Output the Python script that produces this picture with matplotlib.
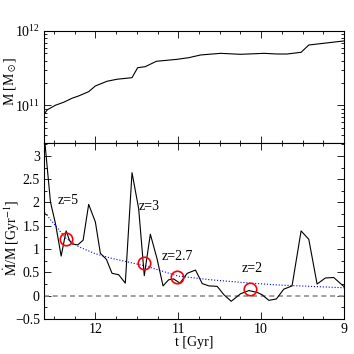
import numpy as np
import matplotlib
matplotlib.use("Agg")
import matplotlib.pyplot as plt
from matplotlib.ticker import MultipleLocator, LogLocator, NullFormatter

plt.rcParams['font.family'] = ['Liberation Serif', 'DejaVu Serif']
plt.rcParams['mathtext.fontset'] = 'stix'

# top panel: halo mass history (log10 M / Msun)
t_mass = [12.618, 12.582, 12.482, 12.382, 12.281, 12.201, 12.081, 12.0, 11.859,
          11.739, 11.558, 11.49, 11.398, 11.265, 11.012, 10.871, 10.731, 10.49,
          10.249, 9.967, 9.807, 9.687, 9.518, 9.425, 9.245, 9.004]
logM = [10.882, 10.94, 11.003, 11.043, 11.097, 11.128, 11.185, 11.262, 11.325,
        11.352, 11.373, 11.507, 11.521, 11.593, 11.62, 11.642, 11.678, 11.70,
        11.687, 11.70, 11.691, 11.691, 11.714, 11.812, 11.835, 11.866]

# bottom panel: specific accretion rate
t_rate = [12.61, 12.542, 12.482, 12.413, 12.353, 12.313, 12.281, 12.213, 12.148,
          12.081, 12.0, 11.94, 11.867, 11.799, 11.719, 11.639, 11.558, 11.478,
          11.41, 11.337, 11.257, 11.184, 11.117, 11.057, 10.98, 10.892, 10.792,
          10.711, 10.63, 10.53, 10.449, 10.361, 10.249, 10.148, 10.048, 9.988,
          9.907, 9.816, 9.727, 9.627, 9.518, 9.425, 9.325, 9.225, 9.124, 9.004]
rate = [3.3, 2.01, 1.55, 0.85, 1.39, 1.19, 1.11, 1.09, 1.19,
        1.96, 1.58, 0.91, 0.78, 0.48, 0.45, 0.27, 2.64, 1.87,
        0.43, 1.32, 0.80, 0.21, 0.34, 0.36, 0.27, 0.48, 0.55,
        0.26, 0.21, 0.20, 0.02, -0.12, 0.04, 0.11, 0.07, 0.02,
        -0.10, -0.07, 0.14, 0.21, 1.39, 1.21, 0.25, 0.38, 0.39, 0.20]

# smooth mean accretion rate (blue dotted)
t_mean = [12.61, 12.48, 12.36, 12.2, 12.0, 11.8, 11.6, 11.4, 11.2, 11.0,
          10.6, 10.2, 9.8, 9.4, 9.0]
rate_mean = [1.78, 1.50, 1.24, 1.05, 0.90, 0.80, 0.72, 0.64, 0.53, 0.42,
             0.34, 0.28, 0.23, 0.20, 0.17]

# redshift markers
z_t = [12.36, 11.41, 11.01, 10.14]
z_rate = [1.21, 0.71, 0.40, 0.15]
z_text = ['z=5', 'z=3', 'z=2.7', 'z=2']
z_text_pos = [(12.46, 2.05), (11.48, 1.91), (11.2, 0.85), (10.23, 0.59)]

fig = plt.figure(figsize=(3.54, 3.54), dpi=100)
ax1 = fig.add_axes([0.1243, 0.5952, 0.8475, 0.3172])
ax2 = fig.add_axes([0.1243, 0.0989, 0.8475, 0.4963])

fs = 10
for ax in (ax1, ax2):
    ax.set_xlim(12.62, 9.0)
    ax.xaxis.set_major_locator(MultipleLocator(1))
    ax.xaxis.set_minor_locator(MultipleLocator(0.25))
    ax.tick_params(which='both', direction='in', top=True, right=True,
                   labelsize=fs, width=0.6, pad=3)
    ax.tick_params(which='major', length=5)
    ax.tick_params(which='minor', length=2.5)
    for s in ax.spines.values():
        s.set_linewidth(0.8)

ax1.plot(t_mass, 10 ** np.array(logM), color='black', lw=0.8)
ax1.set_yscale('log')
ax1.set_ylim(3.1e10, 1e12)
ax1.yaxis.set_major_locator(LogLocator(base=10, numticks=5))
ax1.yaxis.set_minor_locator(LogLocator(base=10, subs=np.arange(2, 10), numticks=10))
ax1.yaxis.set_minor_formatter(NullFormatter())
ax1.tick_params(labelbottom=False)
ax1.set_ylabel(r'M [M$_\odot$]', fontsize=fs)
ax1.yaxis.set_label_coords(-0.085, 0.55)

ax2.axhline(0, color='#909090', lw=1.2, ls=(0, (3, 2.2)))
ax2.plot(t_mean, rate_mean, color='blue', lw=0.8, ls=':')
ax2.plot(t_rate, rate, color='black', lw=0.8)
ax2.plot(z_t, z_rate, 'o', ms=9, mfc='none', mec='red', mew=1.2)
for s, (x, y) in zip(z_text, z_text_pos):
    ax2.text(x, y, s, fontsize=fs, ha='left', va='center')
ax2.set_ylim(-0.5, 3.27)
ax2.yaxis.set_major_locator(MultipleLocator(0.5))
ax2.yaxis.set_minor_locator(MultipleLocator(0.25))
ax2.set_yticks([-0.5, 0, 0.5, 1, 1.5, 2, 2.5, 3])
ax2.set_yticklabels(['\u22120.5', '0', '0.5', '1', '1.5', '2', '2.5', '3'])
ax2.set_xticks([12, 11, 10, 9])
ax2.set_xticklabels(['12', '11', '10', '9'])
ax2.set_xlabel('t [Gyr]', fontsize=fs, labelpad=0)
ax2.set_ylabel(r'$\dot{\rm M}$/M [Gyr$^{-1}$]', fontsize=fs)
ax2.yaxis.set_label_coords(-0.075, 0.46)

fig.savefig('out.png', dpi=100)
